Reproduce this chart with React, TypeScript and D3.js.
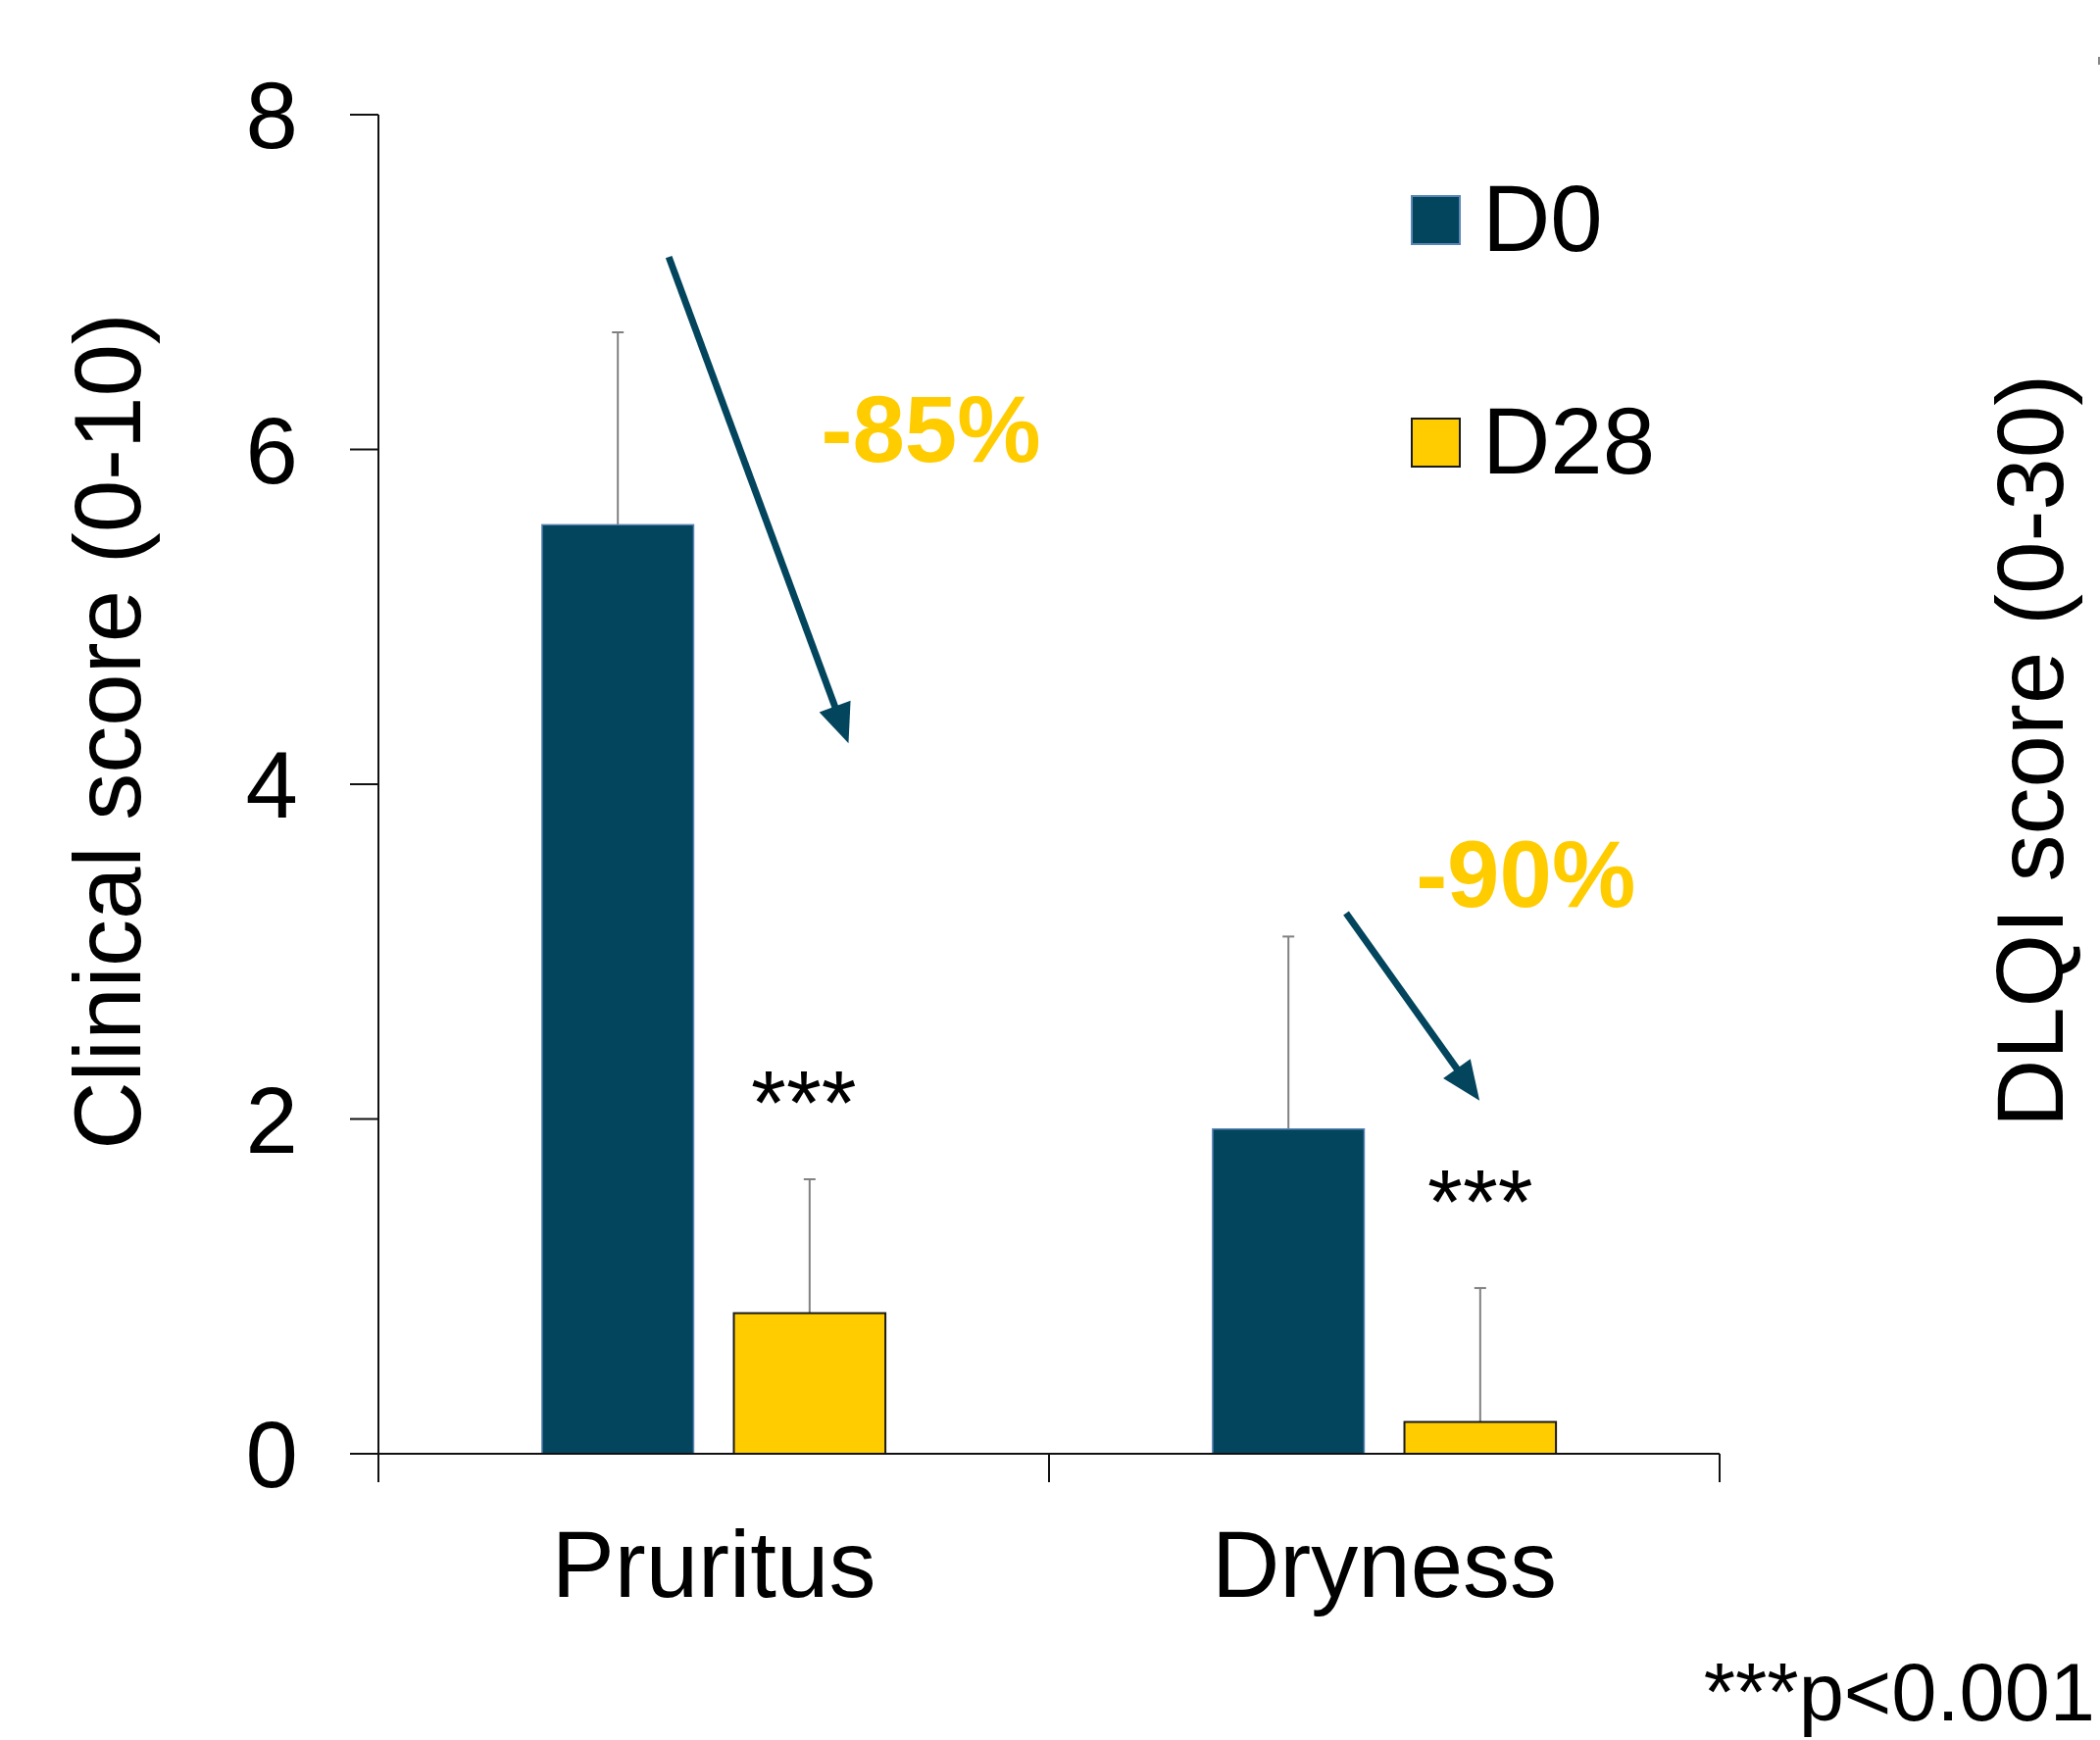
import * as d3 from "d3";
import {useEffect, useRef} from "react";

const categories = ["Pruritus", "Dryness"];
const seriesNames = ["D0", "D28"];
const d0Values = [5.55, 1.94];
const d0Errors = [1.15, 1.15];
const d28Values = [0.84, 0.19];
const d28Errors = [0.80, 0.80];
const yTicks = [0, 2, 4, 6, 8];
const reductionLabels = ["-85%", "-90%"];
const significance = ["***", "***"];

export default function App() {
    const svgRef = useRef(null);
    const width = 2142;
    const height = 1775;
    const margin = {top: 117, right: 388, bottom: 292, left: 386};
    const font = "'Liberation Sans', Arial, sans-serif";
    const darkBlue = "#03455d";
    const yellow = "#ffcc00";

    useEffect(() => {
        if (!svgRef.current) return;
        d3.select(svgRef.current).selectAll("*").remove();

        const svg = d3.select(svgRef.current)
            .attr("width", width)
            .attr("height", height);

        svg.append("rect").attr("width", width).attr("height", height).attr("fill", "white");

        const x = d3.scaleBand()
            .domain(categories)
            .range([margin.left, width - margin.right])
            .paddingInner(0)
            .paddingOuter(0);

        const y = d3.scaleLinear()
            .domain([0, 8])
            .range([height - margin.bottom, margin.top]);

        // bars inside each category band
        const bw = x.bandwidth();
        const barW = bw * 0.226;
        const gap = bw * 0.06;
        const series = [
            {name: seriesNames[0], values: d0Values, errors: d0Errors, fill: darkBlue, stroke: "#5a85b5", sw: 1.5},
            {name: seriesNames[1], values: d28Values, errors: d28Errors, fill: yellow, stroke: "#1a1a1a", sw: 2}
        ];
        const barX = (cat: string, s: number) => {
            const c = x(cat)! + bw / 2;
            return s === 0 ? c - gap / 2 - barW : c + gap / 2;
        };

        series.forEach((s, si) => {
            // error bars (upper only)
            categories.forEach((cat, i) => {
                const cx = barX(cat, si) + barW / 2;
                svg.append("line")
                    .attr("x1", cx).attr("x2", cx)
                    .attr("y1", y(s.values[i])).attr("y2", y(s.values[i] + s.errors[i]))
                    .attr("stroke", "#808080").attr("stroke-width", 2);
                svg.append("line")
                    .attr("x1", cx - 6).attr("x2", cx + 6)
                    .attr("y1", y(s.values[i] + s.errors[i])).attr("y2", y(s.values[i] + s.errors[i]))
                    .attr("stroke", "#808080").attr("stroke-width", 2);
            });
            svg.append("g")
                .selectAll("rect")
                .data(categories)
                .join("rect")
                .attr("x", (d) => barX(d, si))
                .attr("y", (d, i) => y(s.values[i]))
                .attr("width", barW)
                .attr("height", (d, i) => y(0) - y(s.values[i]))
                .attr("fill", s.fill)
                .attr("stroke", s.stroke)
                .attr("stroke-width", s.sw);
        });

        // y axis
        const axisColor = "#111";
        svg.append("line")
            .attr("x1", margin.left).attr("x2", margin.left)
            .attr("y1", y(8)).attr("y2", y(0))
            .attr("stroke", axisColor).attr("stroke-width", 2);
        yTicks.forEach((t) => {
            svg.append("line")
                .attr("x1", margin.left - 29).attr("x2", margin.left)
                .attr("y1", y(t)).attr("y2", y(t))
                .attr("stroke", axisColor).attr("stroke-width", 2);
            svg.append("text")
                .attr("x", margin.left - 82)
                .attr("y", y(t))
                .attr("dy", "0.355em")
                .attr("text-anchor", "end")
                .attr("font-family", font)
                .attr("font-size", 96)
                .text(t);
        });

        // x axis
        svg.append("line")
            .attr("x1", margin.left - 29).attr("x2", width - margin.right)
            .attr("y1", y(0)).attr("y2", y(0))
            .attr("stroke", axisColor).attr("stroke-width", 2);
        const xEdges = [x(categories[0])!, x(categories[1])!, x(categories[1])! + bw];
        xEdges.forEach((xe) => {
            svg.append("line")
                .attr("x1", xe).attr("x2", xe)
                .attr("y1", y(0)).attr("y2", y(0) + 29)
                .attr("stroke", axisColor).attr("stroke-width", 2);
        });
        categories.forEach((cat) => {
            svg.append("text")
                .attr("x", x(cat)! + bw / 2)
                .attr("y", y(0) + 146)
                .attr("text-anchor", "middle")
                .attr("font-family", font)
                .attr("font-size", 96)
                .text(cat);
        });

        // axis titles
        svg.append("text")
            .attr("transform", `translate(143,746) rotate(-90)`)
            .attr("text-anchor", "middle")
            .attr("font-family", font)
            .attr("font-size", 96)
            .text("Clinical score (0-10)");
        svg.append("text")
            .attr("transform", `translate(2104,766) rotate(-90)`)
            .attr("text-anchor", "middle")
            .attr("font-family", font)
            .attr("font-size", 96)
            .text("DLQI score (0-30)");

        // stray mark at the right edge
        svg.append("rect")
            .attr("x", 2140).attr("y", 58).attr("width", 2).attr("height", 8)
            .attr("fill", "#888");

        // significance stars above D28 bars
        const starY = [1.91, 1.32];
        const starDx = [-6, 0];
        categories.forEach((cat, i) => {
            svg.append("text")
                .attr("x", barX(cat, 1) + barW / 2 + starDx[i])
                .attr("y", y(starY[i]))
                .attr("text-anchor", "middle")
                .attr("font-family", font)
                .attr("font-size", 92)
                .text(significance[i]);
        });

        // reduction arrows
        const arrows = [
            {cat: categories[0], fx: 0.433, fy: 7.15, tx: 0.701, ty: 4.245},
            {cat: categories[1], fx: 0.443, fy: 3.23, tx: 0.642, ty: 2.11}
        ];
        arrows.forEach((a) => {
            const x1 = x(a.cat)! + a.fx * bw;
            const y1 = y(a.fy);
            const x2 = x(a.cat)! + a.tx * bw;
            const y2 = y(a.ty);
            const ang = Math.atan2(y2 - y1, x2 - x1);
            const headLen = 40;
            const headHalf = 17;
            const bx = x2 - headLen * Math.cos(ang);
            const by = y2 - headLen * Math.sin(ang);
            svg.append("line")
                .attr("x1", x1).attr("y1", y1)
                .attr("x2", bx + 4 * Math.cos(ang)).attr("y2", by + 4 * Math.sin(ang))
                .attr("stroke", darkBlue).attr("stroke-width", 7);
            const px = -Math.sin(ang);
            const py = Math.cos(ang);
            svg.append("path")
                .attr("d", `M${x2},${y2}L${bx + headHalf * px},${by + headHalf * py}L${bx - headHalf * px},${by - headHalf * py}Z`)
                .attr("fill", darkBlue);
        });

        // reduction labels
        const labelPos = [
            {cat: categories[0], fx: 0.66, v: 5.925},
            {cat: categories[1], fx: 0.547, v: 3.27}
        ];
        labelPos.forEach((l, i) => {
            svg.append("text")
                .attr("x", x(l.cat)! + l.fx * bw)
                .attr("y", y(l.v))
                .attr("font-family", font)
                .attr("font-weight", "bold")
                .attr("font-size", 96)
                .attr("fill", yellow)
                .text(reductionLabels[i]);
        });

        // legend
        const legendFill = [darkBlue, yellow];
        const legendStroke = ["#5a85b5", "#1a1a1a"];
        const legendY = [200, 427];
        seriesNames.forEach((name, i) => {
            svg.append("rect")
                .attr("x", 1440).attr("y", legendY[i])
                .attr("width", 49).attr("height", 49)
                .attr("fill", legendFill[i])
                .attr("stroke", legendStroke[i])
                .attr("stroke-width", 2);
            svg.append("text")
                .attr("x", 1512)
                .attr("y", legendY[i] + 56)
                .attr("font-family", font)
                .attr("font-size", 96)
                .text(name);
        });

        // footnote
        svg.append("text")
            .attr("x", 2137)
            .attr("y", 1755)
            .attr("text-anchor", "end")
            .attr("font-family", font)
            .attr("font-size", 83)
            .text("***p<0.001");
    }, []);

    return (
        <svg ref={svgRef} style={{position: "absolute", left: 0, top: 0}}></svg>
    );
}
